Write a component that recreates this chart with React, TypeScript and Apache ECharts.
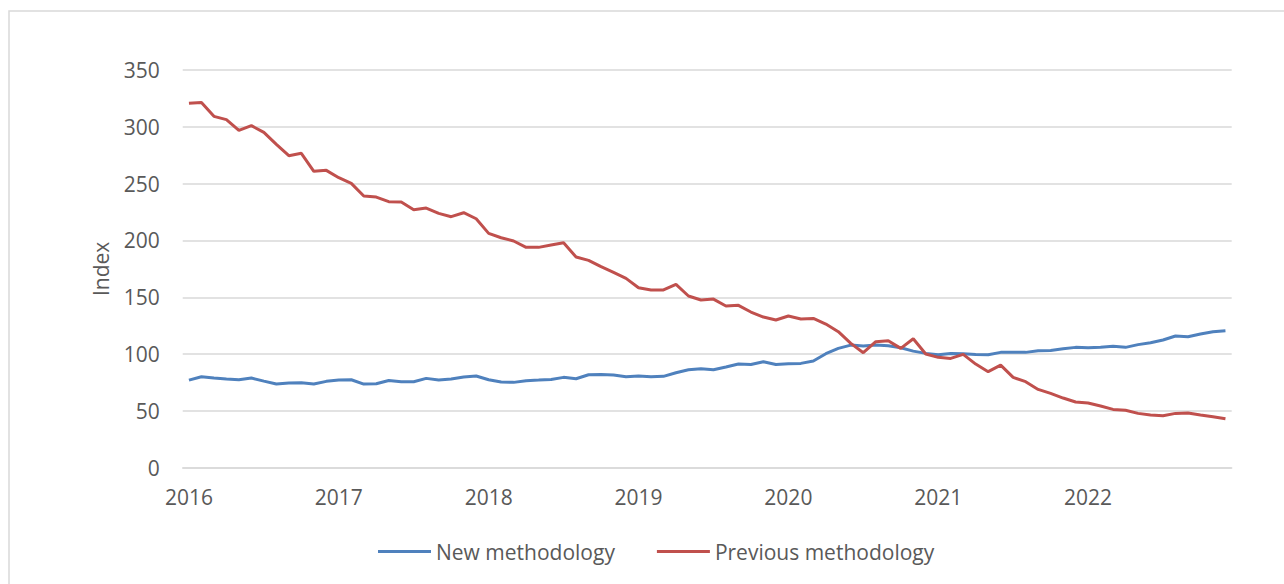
import React, { useEffect, useRef } from "react";
import * as echarts from "echarts";

const years = ["2016", "2017", "2018", "2019", "2020", "2021", "2022"];
const months = ["01", "02", "03", "04", "05", "06", "07", "08", "09", "10", "11", "12"];
const categories: string[] = [];
years.forEach((y) => months.forEach((m) => categories.push(y + "-" + m)));

const newMethodology = [
  77.1, 80.1, 78.9, 78.0, 77.4, 78.9, 76.2, 73.6, 74.5, 74.8, 73.6, 76.0,
  77.1, 77.4, 73.6, 73.9, 76.8, 75.7, 75.7, 78.6, 77.1, 78.0, 79.8, 80.7,
  77.4, 75.4, 75.1, 76.6, 77.1, 77.7, 79.5, 78.3, 81.8, 82.1, 81.5, 80.1,
  80.7, 80.1, 80.4, 83.6, 86.2, 87.1, 86.2, 88.6, 91.2, 90.9, 93.3, 90.9,
  91.5, 91.8, 93.9, 100.3, 105.0, 107.9, 107.0, 107.9, 107.4, 105.6, 102.6, 100.6,
  99.4, 100.6, 100.3, 99.7, 99.4, 101.5, 101.5, 101.5, 102.9, 103.2, 104.7, 105.9,
  105.6, 105.9, 106.8, 105.9, 108.3, 110.0, 112.4, 115.9, 115.3, 117.7, 119.7, 120.6,
];

const previousMethodology = [
  320.7, 321.5, 309.2, 306.3, 296.9, 301.0, 295.1, 284.6, 274.6, 276.7, 260.8, 261.7,
  255.2, 250.2, 239.1, 238.2, 234.1, 233.8, 227.0, 228.5, 223.8, 220.9, 224.4, 219.1,
  206.2, 202.4, 199.5, 193.9, 193.9, 196.0, 198.0, 185.4, 182.5, 176.9, 171.9, 166.6,
  158.4, 156.4, 156.4, 161.3, 151.1, 147.6, 148.4, 142.3, 142.9, 137.0, 132.6, 130.0,
  133.5, 130.8, 131.4, 126.4, 119.7, 109.4, 101.2, 110.9, 111.8, 105.0, 113.5, 100.0,
  97.1, 96.2, 99.7, 91.2, 84.5, 90.3, 79.5, 75.7, 68.9, 65.4, 61.3, 57.8,
  56.9, 54.3, 51.3, 50.5, 47.8, 46.4, 45.7, 47.8, 48.1, 46.4, 44.9, 43.1,
];

const FONT = "'Open Sans', 'Noto Sans', sans-serif";
const TEXT = "#595959";

export default function App() {
  const ref = useRef<HTMLDivElement>(null);
  useEffect(() => {
    document.body.style.margin = "0";
    const chart = echarts.init(ref.current!, undefined, { renderer: "svg" });
    chart.setOption({
      animation: false,
      backgroundColor: "#ffffff",
      textStyle: { fontFamily: FONT, color: TEXT },
      graphic: [
        {
          type: "rect",
          shape: { x: 9, y: 11, width: 1300, height: 620 },
          style: { fill: "none", stroke: "#d9d9d9", lineWidth: 1.5 },
          silent: true,
        },
      ],
      grid: { left: 182.7, right: 52.3, top: 70, bottom: 116.3 },
      legend: {
        left: 378,
        top: 541,
        padding: 0,
        itemWidth: 53,
        itemHeight: 3,
        itemGap: 42,
        icon: "rect",
        textStyle: { fontFamily: FONT, fontSize: 21, color: TEXT },
        data: ["New methodology", "Previous methodology"],
      },
      xAxis: {
        type: "category",
        data: categories,
        boundaryGap: true,
        axisLine: { show: true, lineStyle: { color: "#d9d9d9", width: 1.5 } },
        axisTick: { show: false },
        axisLabel: {
          interval: (idx: number) => idx % 12 === 0,
          formatter: (v: string) => v.slice(0, 4),
          fontFamily: FONT,
          fontSize: 21,
          color: TEXT,
          margin: 19,
        },
        splitLine: { show: false },
      },
      yAxis: {
        type: "value",
        min: 0,
        max: 350,
        interval: 50,
        name: "Index",
        nameLocation: "middle",
        nameGap: 71,
        nameTextStyle: { fontFamily: FONT, fontSize: 21, color: TEXT },
        axisLine: { show: false },
        axisTick: { show: false },
        axisLabel: { fontFamily: FONT, fontSize: 21, color: TEXT, margin: 23 },
        splitLine: { show: true, lineStyle: { color: "#d9d9d9", width: 1.5 } },
      },
      series: [
        {
          name: "New methodology",
          type: "line",
          data: newMethodology,
          symbol: "none",
          lineStyle: { color: "#4F81BD", width: 3 },
          itemStyle: { color: "#4F81BD" },
        },
        {
          name: "Previous methodology",
          type: "line",
          data: previousMethodology,
          symbol: "none",
          lineStyle: { color: "#C0504D", width: 3 },
          itemStyle: { color: "#C0504D" },
        },
      ],
    });
    return () => chart.dispose();
  }, []);
  return <div ref={ref} style={{ width: 1284, height: 584 }} />;
}
